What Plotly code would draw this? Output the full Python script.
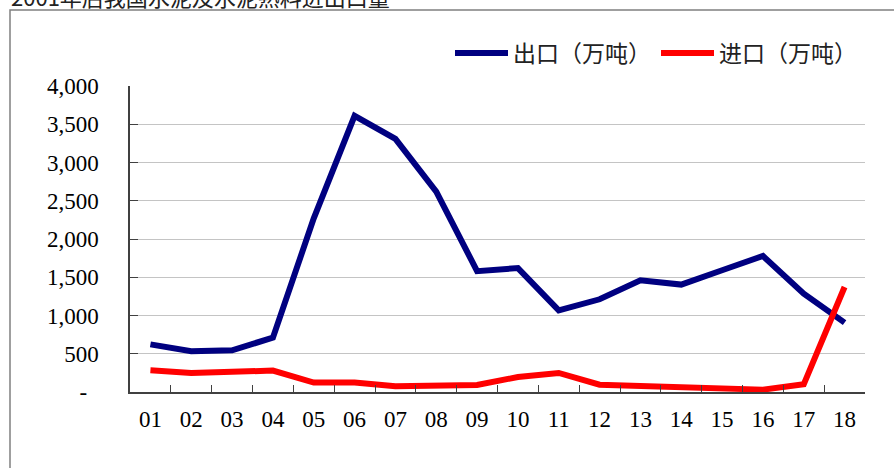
import plotly.graph_objects as go

categories = ["01", "02", "03", "04", "05", "06", "07", "08", "09",
              "10", "11", "12", "13", "14", "15", "16", "17", "18"]
exports = [623, 532, 545, 711, 2270, 3610, 3310, 2620, 1580,
           1620, 1068, 1212, 1460, 1404, 1591, 1778, 1286, 907]
imports = [284, 249, 264, 280, 123, 123, 75, 75, 92,
           196, 249, 96, 80, 57, 31, 31, 100, 1373]
series_names = ["出口（万吨）", "进口（万吨）"]
ytick_vals = [0, 500, 1000, 1500, 2000, 2500, 3000, 3500, 4000]
ytick_text = ["-\u00a0\u00a0", "500", "1,000", "1,500", "2,000", "2,500", "3,000", "3,500", "4,000"]
title_text = "2001年后我国水泥及水泥熟料进出口量"

W, H = 894, 468
ML, MR, MT, MB = 130, 29, 86, 76
PW, PH = W - ML - MR, H - MT - MB

def px_x(p):
    return (p - ML) / PW

def px_y(p):
    return (H - MB - p) / PH

serif = "Liberation Serif"
cjk = "Noto Sans CJK SC"

fig = go.Figure()
fig.add_trace(go.Scatter(x=categories, y=exports, mode="lines", name=series_names[0],
                         line=dict(color="#000080", width=6)))
fig.add_trace(go.Scatter(x=categories, y=imports, mode="lines", name=series_names[1],
                         line=dict(color="#ff0000", width=6)))

fig.update_layout(
    width=W, height=H,
    margin=dict(l=ML, r=MR, t=MT, b=MB, autoexpand=False),
    paper_bgcolor="white", plot_bgcolor="white",
    showlegend=True,
    legend=dict(orientation="h", x=px_x(862), xanchor="right", y=px_y(53), yanchor="middle",
                font=dict(family=cjk, size=23, color="#222222"),
                itemwidth=53, bgcolor="rgba(0,0,0,0)", tracegroupgap=0),
    xaxis=dict(type="category", range=[-0.5, 17.5], showgrid=False,
               showline=True, linecolor="#404040", linewidth=1.5,
               ticks="inside", ticklen=7, tickcolor="#404040", tickwidth=1.3,
               tickson="boundaries", ticklabelstandoff=6,
               tickfont=dict(family=serif, size=23, color="#000000"), zeroline=False),
    yaxis=dict(range=[0, 4000], tickvals=ytick_vals, ticktext=ytick_text,
               showgrid=True, gridcolor="#c4c4c4", gridwidth=1.3,
               showline=True, linecolor="#404040", linewidth=1.5,
               ticks="inside", ticklen=8, tickcolor="#404040", tickwidth=1.3,
               ticklabelstandoff=25,
               tickfont=dict(family=serif, size=23, color="#000000"), zeroline=False),
    shapes=[dict(type="rect", xref="paper", yref="paper",
                 x0=px_x(10), x1=px_x(905), y0=px_y(480), y1=px_y(10),
                 line=dict(color="#808080", width=1.5), fillcolor="rgba(0,0,0,0)", layer="below")],
    annotations=[dict(text=title_text, xref="paper", yref="paper", x=px_x(9), xanchor="left",
                      y=px_y(-4), yanchor="middle", showarrow=False,
                      font=dict(family=cjk, size=22, color="#222222"))],
)

fig.write_html("out.html", config={"displayModeBar": False},
               post_script="document.body.style.margin='0';document.body.style.overflow='hidden';")
